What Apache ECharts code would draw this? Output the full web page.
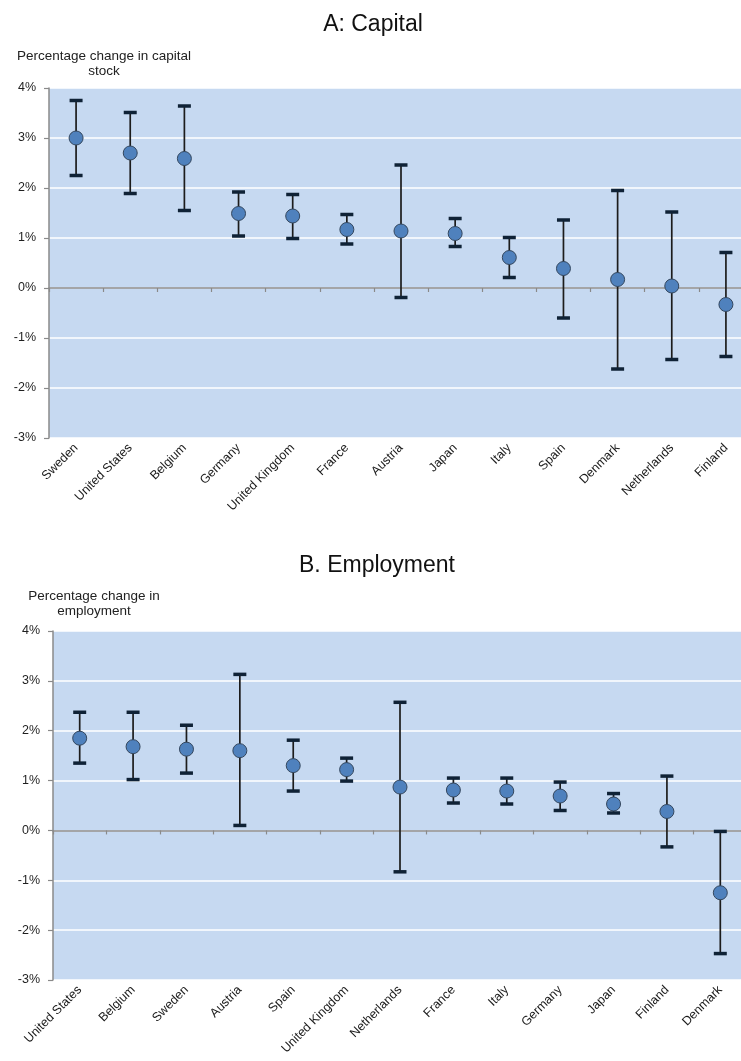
<!DOCTYPE html>
<html>
<head>
<meta charset="utf-8">
<script src="https://cdn.jsdelivr.net/npm/echarts@6/dist/echarts.min.js"></script>
<style>
html,body{margin:0;padding:0;background:#fff;overflow:hidden;}
#c{width:741px;height:1061px;}
</style>
</head>
<body>
<div id="c"></div>
<script>
// Panel A: Capital
const capCountries = ['Sweden','United States','Belgium','Germany','United Kingdom','France','Austria','Japan','Italy','Spain','Denmark','Netherlands','Finland'];
const capMid  = [3.00, 2.70, 2.59, 1.49, 1.44, 1.17, 1.14, 1.09, 0.61, 0.39, 0.17, 0.04, -0.33];
const capHigh = [3.75, 3.51, 3.64, 1.92, 1.87, 1.47, 2.46, 1.39, 1.01, 1.36, 1.95, 1.52, 0.71];
const capLow  = [2.25, 1.89, 1.55, 1.04, 0.99, 0.88, -0.19, 0.83, 0.21, -0.60, -1.62, -1.43, -1.37];

// Panel B: Employment
const empCountries = ['United States','Belgium','Sweden','Austria','Spain','United Kingdom','Netherlands','France','Italy','Germany','Japan','Finland','Denmark'];
const empMid  = [1.85, 1.68, 1.63, 1.60, 1.30, 1.22, 0.87, 0.81, 0.79, 0.69, 0.53, 0.38, -1.25];
const empHigh = [2.37, 2.37, 2.11, 3.13, 1.81, 1.45, 2.57, 1.05, 1.05, 0.97, 0.74, 1.09, -0.02];
const empLow  = [1.35, 1.02, 1.15, 0.10, 0.79, 0.99, -0.83, 0.55, 0.53, 0.40, 0.35, -0.33, -2.47];

const yTicks = { min: -3, max: 4, interval: 1 };

const FONT = 'Liberation Sans';

function errData(mid, lo, hi) {
  return mid.map((m, i) => [i, lo[i], hi[i]]);
}

function errSeries(xi, yi, data) {
  return {
    type: 'custom',
    xAxisIndex: xi, yAxisIndex: yi,
    data: data,
    z: 3,
    clip: false,
    renderItem: function (params, api) {
      const x = api.value(0);
      const lo = api.coord([x, api.value(1)]);
      const hi = api.coord([x, api.value(2)]);
      const hw = 6.5;
      return {
        type: 'group',
        children: [
          { type: 'line', shape: { x1: lo[0], y1: lo[1], x2: hi[0], y2: hi[1] },
            style: { stroke: '#1c1c1c', lineWidth: 1.7 } },
          { type: 'line', shape: { x1: hi[0] - hw, y1: hi[1], x2: hi[0] + hw, y2: hi[1] },
            style: { stroke: '#0f2236', lineWidth: 3.5 } },
          { type: 'line', shape: { x1: lo[0] - hw, y1: lo[1], x2: lo[0] + hw, y2: lo[1] },
            style: { stroke: '#0f2236', lineWidth: 3.5 } }
        ]
      };
    }
  };
}

function ptSeries(xi, yi, mid) {
  return {
    type: 'scatter',
    xAxisIndex: xi, yAxisIndex: yi,
    data: mid.map((m, i) => [i, m]),
    symbol: 'circle',
    symbolSize: 14,
    z: 5,
    itemStyle: { color: '#4F81BD', borderColor: '#34475e', borderWidth: 1, opacity: 1 },
    emphasis: { disabled: true }
  };
}

function labelAxis(gi, cats) {
  return {
    type: 'category', gridIndex: gi, data: cats, position: 'bottom',
    boundaryGap: true,
    axisLine: { show: false, onZero: false },
    axisTick: { show: false },
    axisLabel: { rotate: 45, margin: 8, fontSize: 12.5, color: '#1a1a1a', fontFamily: FONT, interval: 0 },
    splitLine: { show: false }
  };
}
function zeroAxis(gi, cats) {
  return {
    type: 'category', gridIndex: gi, data: cats, position: 'top',
    boundaryGap: true,
    axisLine: { show: true, onZero: true, lineStyle: { color: '#8a8a8a', width: 1.5 } },
    axisTick: { show: true, inside: true, length: 4, interval: 0, lineStyle: { color: '#8a8a8a', width: 1.2 } },
    axisLabel: { show: false },
    splitLine: { show: false }
  };
}
function yAxis(gi) {
  return {
    type: 'value', gridIndex: gi,
    min: yTicks.min, max: yTicks.max, interval: yTicks.interval,
    axisLine: { show: true, lineStyle: { color: '#8a8a8a', width: 1.5 } },
    axisTick: { show: true, length: 5, lineStyle: { color: '#8a8a8a', width: 1.2 } },
    axisLabel: { formatter: '{value}%', fontSize: 12.5, color: '#1f1f1f', fontFamily: FONT, margin: 13 },
    splitLine: { show: true, lineStyle: { color: '#ffffff', width: 1.5 } }
  };
}

const chart = echarts.init(document.getElementById('c'), null, { renderer: 'canvas' });
chart.setOption({
  animation: false,
  backgroundColor: '#ffffff',
  grid: [
    { left: 49, top: 88, height: 350, width: 704, outerBoundsMode: 'none', containLabel: false, show: true, backgroundColor: '#C6D9F1', borderWidth: 0 },
    { left: 53, top: 631, height: 349, width: 694, outerBoundsMode: 'none', containLabel: false, show: true, backgroundColor: '#C6D9F1', borderWidth: 0 }
  ],
  xAxis: [labelAxis(0, capCountries), zeroAxis(0, capCountries), labelAxis(1, empCountries), zeroAxis(1, empCountries)],
  yAxis: [yAxis(0), yAxis(1)],
  graphic: [
    { type: 'text', x: 373, y: 13, style: { text: 'A: Capital', font: '23px "Liberation Sans"', fill: '#111', align: 'center' } },
    { type: 'text', x: 104, y: 49, style: { text: 'Percentage change in capital\nstock', font: '13.5px "Liberation Sans"', fill: '#222', align: 'center', lineHeight: 15 } },
    { type: 'text', x: 377, y: 554, style: { text: 'B. Employment', font: '23px "Liberation Sans"', fill: '#111', align: 'center' } },
    { type: 'text', x: 94, y: 589, style: { text: 'Percentage change in\nemployment', font: '13.5px "Liberation Sans"', fill: '#222', align: 'center', lineHeight: 15 } }
  ],
  series: [
    errSeries(0, 0, errData(capMid, capLow, capHigh)),
    ptSeries(0, 0, capMid),
    errSeries(2, 1, errData(empMid, empLow, empHigh)),
    ptSeries(2, 1, empMid)
  ]
});
</script>
</body>
</html>
